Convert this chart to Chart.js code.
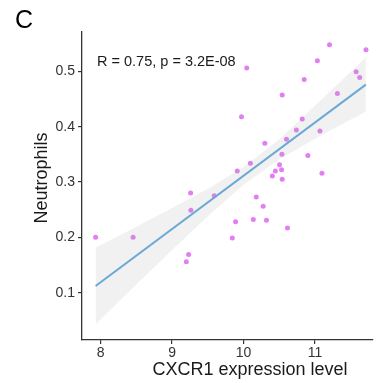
<!DOCTYPE html>
<html>
<head>
<meta charset="utf-8">
<script src="https://cdn.jsdelivr.net/npm/chart.js@4.4.1/dist/chart.umd.min.js"></script>
<style>
  html, body { margin: 0; padding: 0; background: #fff; overflow: hidden; }
  #wrap { width: 377px; height: 383px; position: relative; }
</style>
</head>
<body>
<div id="wrap"><canvas id="scatter-chart"></canvas></div>
<script>
"use strict"

// CXCR1 expression vs neutrophil fraction, one entry per sample
const cxcr1 = [7.93, 8.455, 9.199, 9.231, 9.259, 9.263, 9.589, 9.842, 9.888, 9.911,
  9.971, 10.044, 10.095, 10.136, 10.177, 10.274, 10.297, 10.320, 10.402, 10.444,
  10.503, 10.531, 10.536, 10.540, 10.540, 10.600, 10.614, 10.738, 10.820, 10.848,
  10.899, 11.032, 11.068, 11.096, 11.202, 11.312, 11.574, 11.624, 11.712];
const neutrophils = [0.200, 0.200, 0.156, 0.169, 0.280, 0.249, 0.275, 0.199, 0.228, 0.320,
  0.418, 0.506, 0.334, 0.232, 0.273, 0.256, 0.370, 0.231, 0.311, 0.320,
  0.331, 0.322, 0.350, 0.305, 0.457, 0.377, 0.217, 0.394, 0.414, 0.485,
  0.348, 0.519, 0.392, 0.316, 0.548, 0.460, 0.499, 0.489, 0.539];

// linear fit and its confidence band
const fitX = [7.93, 11.71];
const fitY = [0.112, 0.476];
const bandX = [7.93, 8.5, 9, 9.5, 10, 10.5, 11, 11.5, 11.71];
const bandLow = [0.043, 0.115, 0.177, 0.238, 0.295, 0.341, 0.378, 0.413, 0.427];
const bandHigh = [0.181, 0.219, 0.253, 0.288, 0.327, 0.377, 0.438, 0.499, 0.525];

// axis ticks
const xTicks = [8, 9, 10, 11];
const yTicks = [0.1, 0.2, 0.3, 0.4, 0.5];

const statText = "R = 0.75, p = 3.2E-08";
const FONT = '"Liberation Sans", Arial, Helvetica, sans-serif';

const toPoints = (xs, ys) => xs.map((x, i) => ({x: x, y: ys[i]}));

// panel letter, stats and axis titles
const textPlugin = {
  id: 'panelText',
  afterDraw(chart) {
    const ctx = chart.ctx;
    const xs = chart.scales.x;
    const ys = chart.scales.y;
    ctx.save();
    ctx.fillStyle = '#000';
    ctx.font = '25px ' + FONT;
    ctx.textAlign = 'left';
    ctx.textBaseline = 'top';
    ctx.fillText('C', 15, 9);

    ctx.fillStyle = '#1a1a1a';
    ctx.font = '14.5px ' + FONT;
    ctx.textBaseline = 'alphabetic';
    ctx.fillText(statText, xs.getPixelForValue(7.95), ys.getPixelForValue(0.51));

    ctx.font = '18px ' + FONT;
    ctx.textAlign = 'center';
    ctx.textBaseline = 'middle';
    ctx.fillText('CXCR1 expression level', 250, 370);

    ctx.translate(42, 178);
    ctx.rotate(-Math.PI / 2);
    ctx.fillText('Neutrophils', 0, 0);
    ctx.restore();
  }
};

const data = {
  datasets: [
    {
      type: 'line',
      data: toPoints(fitX, fitY),
      borderColor: '#6aa9d6',
      borderWidth: 2,
      pointRadius: 0,
      fill: false
    },
    {
      type: 'line',
      data: toPoints(bandX, bandHigh),
      borderWidth: 0,
      borderColor: 'rgba(0,0,0,0)',
      backgroundColor: 'rgba(160,160,160,0.15)',
      pointRadius: 0,
      fill: '+1'
    },
    {
      type: 'line',
      data: toPoints(bandX, bandLow),
      borderWidth: 0,
      borderColor: 'rgba(0,0,0,0)',
      pointRadius: 0,
      fill: false
    },
    {
      type: 'scatter',
      data: toPoints(cxcr1, neutrophils),
      backgroundColor: '#e27ef2',
      borderWidth: 0,
      pointRadius: 2.5
    }
  ]
};

const axisColor = '#333';
const tickColor = '#333';

const config = {
  type: 'scatter',
  data,
  options: {
    responsive: false,
    animation: false,
    layout: { padding: { top: 32, right: 0, bottom: 0, left: 0 } },
    plugins: { legend: { display: false }, tooltip: { enabled: false } },
    scales: {
      x: {
        type: 'linear',
        min: 7.74,
        max: 11.81,
        afterBuildTicks: scale => { scale.ticks = xTicks.map(v => ({value: v})); },
        afterFit: scale => { scale.height = 43; },
        border: { display: true, color: axisColor, width: 1.3 },
        grid: { drawOnChartArea: false, drawTicks: true, tickLength: 4, color: axisColor, lineWidth: 1.2 },
        ticks: { color: tickColor, padding: 1, font: { family: FONT, size: 14 } }
      },
      y: {
        type: 'linear',
        min: 0.0145,
        max: 0.571,
        afterBuildTicks: scale => { scale.ticks = yTicks.map(v => ({value: v})); },
        afterFit: scale => { scale.width = 82; },
        border: { display: true, color: axisColor, width: 1.3 },
        grid: { drawOnChartArea: false, drawTicks: true, tickLength: 4, color: axisColor, lineWidth: 1.2 },
        ticks: {
          color: tickColor,
          padding: 3,
          font: { family: FONT, size: 14 },
          callback: v => v.toFixed(1)
        }
      }
    }
  },
  plugins: [textPlugin]
};

const canvas = document.getElementById('scatter-chart');
canvas.width = 377;
canvas.height = 383;
const scatterChart = new Chart(canvas, config);
</script>
</body>
</html>
